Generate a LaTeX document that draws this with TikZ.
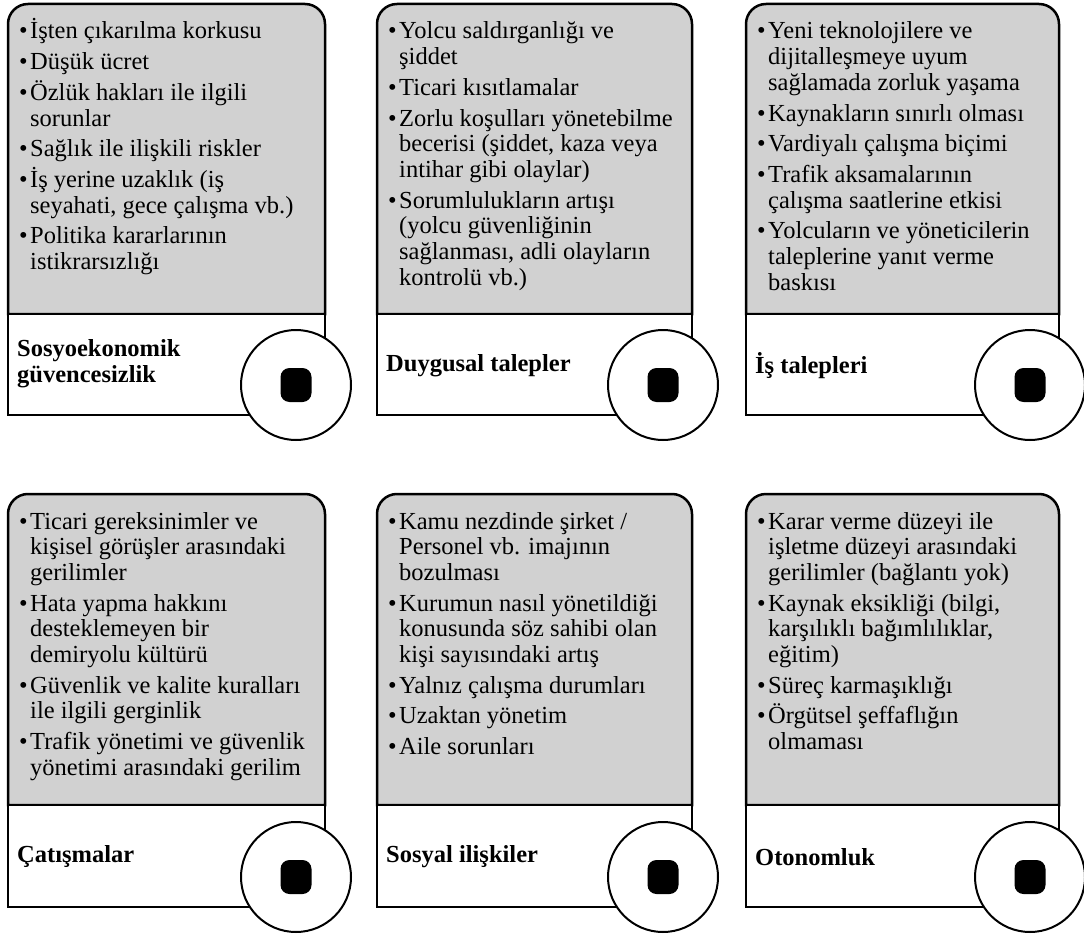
\documentclass[tikz,border=0pt]{standalone}
\usepackage{fontspec}
\setmainfont{Liberation Serif}

\definecolor{cardgray}{RGB}{209,209,209}
\newcommand{\cardfont}{\fontsize{24.5}{25.7}\selectfont}
\newcommand{\bitem}[1]{\par\hangindent=11pt\hangafter=1\noindent\makebox[11pt][l]{\textbullet}#1}
\newcommand{\itemsbox}[1]{\begin{minipage}[t]{330pt}\setlength{\parskip}{5pt}#1\end{minipage}}

\begin{document}
\begin{tikzpicture}[x=1pt, y=-1pt,
	card/.style={line width=2.5pt},
	cardbody/.style={anchor=base west, inner sep=0pt, font=\cardfont},
	cardtitle/.style={anchor=west, inner sep=0pt, align=left, font=\cardfont\bfseries},
	ring/.style={draw, circle, fill=white, line width=2pt, minimum size=110pt, inner sep=0pt},
	blot/.style={fill=black, rounded corners=9pt, minimum width=31pt, minimum height=34pt, inner sep=0pt}]
	
	\useasboundingbox (0,0) rectangle (1084,936);
	
	\filldraw[card, fill=cardgray] (8,314) [rounded corners=20pt] -- (8,4) -- (325,4) [sharp corners] -- (325,314) -- cycle;
	\filldraw[card, fill=white] (8,314) rectangle (325,415);
	\filldraw[card, fill=cardgray] (377,314) [rounded corners=20pt] -- (377,4) -- (692,4) [sharp corners] -- (692,314) -- cycle;
	\filldraw[card, fill=white] (377,314) rectangle (692,415);
	\filldraw[card, fill=cardgray] (746,314) [rounded corners=20pt] -- (746,4) -- (1059,4) [sharp corners] -- (1059,314) -- cycle;
	\filldraw[card, fill=white] (746,314) rectangle (1059,415);
	
	\filldraw[card, fill=cardgray] (8,805) [rounded corners=20pt] -- (8,494) -- (325,494) [sharp corners] -- (325,805) -- cycle;
	\filldraw[card, fill=white] (8,805) rectangle (325,907);
	\filldraw[card, fill=cardgray] (377,805) [rounded corners=20pt] -- (377,494) -- (692,494) [sharp corners] -- (692,805) -- cycle;
	\filldraw[card, fill=white] (377,805) rectangle (692,907);
	\filldraw[card, fill=cardgray] (746,805) [rounded corners=20pt] -- (746,494) -- (1059,494) [sharp corners] -- (1059,805) -- cycle;
	\filldraw[card, fill=white] (746,805) rectangle (1059,907);
	
	\node[cardbody] (body1) at (19,39) {\itemsbox{%
		\bitem{İşten çıkarılma korkusu}
		\bitem{Düşük ücret}
		\bitem{Özlük hakları ile ilgili\newline sorunlar}
		\bitem{Sağlık ile ilişkili riskler}
		\bitem{İş yerine uzaklık (iş\newline seyahati, gece çalışma vb.)}
		\bitem{Politika kararlarının\newline istikrarsızlığı}}};
	\node[cardbody] (body2) at (388,39) {\itemsbox{%
		\bitem{Yolcu saldırganlığı ve\newline şiddet}
		\bitem{Ticari kısıtlamalar}
		\bitem{Zorlu koşulları yönetebilme\newline becerisi (şiddet, kaza veya\newline intihar gibi olaylar)}
		\bitem{Sorumlulukların artışı\newline (yolcu güvenliğinin\newline sağlanması, adli olayların\newline kontrolü vb.)}}};
	\node[cardbody] (body3) at (757,39) {\itemsbox{%
		\bitem{Yeni teknolojilere ve\newline dijitalleşmeye uyum\newline sağlamada zorluk yaşama}
		\bitem{Kaynakların sınırlı olması}
		\bitem{Vardiyalı çalışma biçimi}
		\bitem{Trafik aksamalarının\newline çalışma saatlerine etkisi}
		\bitem{Yolcuların ve yöneticilerin\newline taleplerine yanıt verme\newline baskısı}}};
	
	\node[cardbody] (body4) at (19,529) {\itemsbox{%
		\bitem{Ticari gereksinimler ve\newline kişisel görüşler arasındaki\newline gerilimler}
		\bitem{Hata yapma hakkını\newline desteklemeyen bir\newline demiryolu kültürü}
		\bitem{Güvenlik ve kalite kuralları\newline ile ilgili gerginlik}
		\bitem{Trafik yönetimi ve güvenlik\newline yönetimi arasındaki gerilim}}};
	\node[cardbody] (body5) at (388,529) {\itemsbox{%
		\bitem{Kamu nezdinde şirket /\newline Personel vb. imajının\newline bozulması}
		\bitem{Kurumun nasıl yönetildiği\newline konusunda söz sahibi olan\newline kişi sayısındaki artış}
		\bitem{Yalnız çalışma durumları}
		\bitem{Uzaktan yönetim}
		\bitem{Aile sorunları}}};
	\node[cardbody] (body6) at (757,529) {\itemsbox{%
		\bitem{Karar verme düzeyi ile\newline işletme düzeyi arasındaki\newline gerilimler (bağlantı yok)}
		\bitem{Kaynak eksikliği (bilgi,\newline karşılıklı bağımlılıklar,\newline eğitim)}
		\bitem{Süreç karmaşıklığı}
		\bitem{Örgütsel şeffaflığın\newline olmaması}}};
	
	\node[cardtitle] (title1) at (17,364) {Sosyoekonomik\\güvencesizlik};
	\node[cardtitle] (title2) at (386,366) {Duygusal talepler};
	\node[cardtitle] (title3) at (755,366) {İş talepleri};
	\node[cardtitle] (title4) at (17,857) {Çatışmalar};
	\node[cardtitle] (title5) at (386,857) {Sosyal ilişkiler};
	\node[cardtitle] (title6) at (755,857) {Otonomluk};
	
	\node[ring] (ring1) at (296,385) {};
	\node[ring] (ring2) at (663,385) {};
	\node[ring] (ring3) at (1030,385) {};
	\node[ring] (ring4) at (296,877) {};
	\node[ring] (ring5) at (663,877) {};
	\node[ring] (ring6) at (1030,877) {};
	
	\node[blot] (blot1) at (ring1) {};
	\node[blot] (blot2) at (ring2) {};
	\node[blot] (blot3) at (ring3) {};
	\node[blot] (blot4) at (ring4) {};
	\node[blot] (blot5) at (ring5) {};
	\node[blot] (blot6) at (ring6) {};
	
\end{tikzpicture}
\end{document}
